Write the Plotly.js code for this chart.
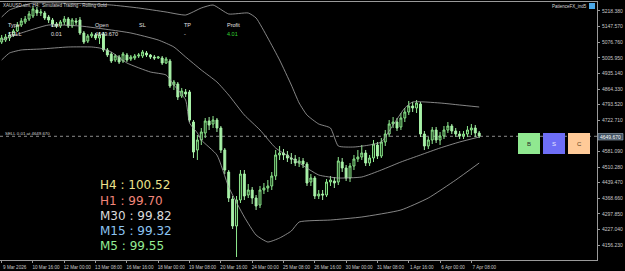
<!DOCTYPE html>
<html><head><meta charset="utf-8">
<script src="https://cdn.plot.ly/plotly-3.0.1.min.js"></script>
<style>html,body{margin:0;padding:0;background:#000;}#chart{width:625px;height:271px;}</style>
</head><body><div id="chart"></div>
<script>
const dateLabels = ["9 Mar 2026","10 Mar 16:00","12 Mar 00:00","13 Mar 08:00","16 Mar 16:00","18 Mar 00:00","19 Mar 08:00","20 Mar 16:00","24 Mar 00:00","25 Mar 08:00","26 Mar 16:00","30 Mar 00:00","31 Mar 08:00","1 Apr 16:00","6 Apr 00:00","7 Apr 08:00"];

const openP = [
5077.7,5086.7,5095.8,5109.4,5127.6,5154.8,5168.4,5182.1,5195.7,5222.9,
5209.3,5209.3,5191.1,5177.5,5159.4,5150.3,5168.4,5182.1,5150.3,5173.0,
5177.5,5118.5,5082.2,5104.9,5109.4,5095.8,5114.0,5041.4,5023.2,4996.0,
5009.6,4991.4,5018.7,5000.5,5005.0,5014.1,5014.1,5027.7,5018.7,5009.6,
5005.0,5005.0,4982.3,4991.4,4882.5,4887.0,4832.6,4850.7,4850.7,4714.5,
4587.5,4632.8,4664.6,4719.1,4705.5,4723.6,4687.3,4587.5,4487.6,4365.0,
4242.5,4360.5,4478.5,4383.2,4405.9,4369.6,4337.8,4405.9,4415.0,4424.1,
4469.4,4564.8,4573.8,4564.8,4551.1,4546.6,4528.4,4537.5,4523.9,4442.2,
4460.4,4378.7,4387.7,4383.2,4442.2,4446.7,4442.2,4533.0,4505.8,4460.4,
4514.8,4546.6,4555.7,4573.8,4528.4,4551.1,4610.1,4560.2,4623.8,4660.1,
4705.5,4714.5,4691.9,4732.7,4759.9,4787.2,4778.1,4796.2,4660.1,4605.6,
4632.8,4678.2,4632.8,4651.0,4678.2,4696.4,4673.7,4660.1,4651.0,4660.1,
4678.2,4687.3,4664.6];
const highP = [
5109.4,5114.0,5123.0,5136.7,5168.4,5186.6,5195.7,5218.4,5241.1,5236.5,
5227.5,5218.4,5200.2,5186.6,5168.4,5177.5,5195.7,5191.1,5186.6,5186.6,
5191.1,5127.6,5114.0,5123.0,5118.5,5123.0,5123.0,5050.4,5032.3,5023.2,
5018.7,5032.3,5027.7,5018.7,5023.2,5027.7,5041.4,5036.8,5023.2,5018.7,
5014.1,5014.1,5009.6,5000.5,4905.2,4896.1,4868.9,4864.3,4859.8,4723.6,
4655.5,4687.3,4732.7,4737.2,4741.8,4732.7,4696.4,4596.5,4496.7,4378.7,
4378.7,4496.7,4496.7,4433.1,4419.5,4383.2,4424.1,4437.7,4451.3,4487.6,
4587.5,4605.6,4592.0,4582.9,4573.8,4564.8,4555.7,4551.1,4533.0,4478.5,
4469.4,4405.9,4405.9,4455.8,4469.4,4464.9,4555.7,4551.1,4519.4,4528.4,
4564.8,4587.5,4610.1,4587.5,4564.8,4632.8,4623.8,4641.9,4678.2,4723.6,
4737.2,4732.7,4755.4,4778.1,4809.9,4805.3,4814.4,4805.3,4673.7,4646.5,
4691.9,4691.9,4669.2,4696.4,4714.5,4705.5,4687.3,4673.7,4673.7,4696.4,
4705.5,4700.9,4673.7];
const lowP = [
5068.6,5077.7,5082.2,5100.4,5123.0,5145.7,5159.4,5173.0,5186.6,5195.7,
5195.7,5177.5,5163.9,5145.7,5141.2,5141.2,5154.8,5141.2,5141.2,5154.8,
5109.4,5068.6,5073.1,5095.8,5086.7,5068.6,5032.3,5009.6,4982.3,4986.9,
4977.8,4982.3,4986.9,4991.4,4996.0,5005.0,5005.0,5009.6,5000.5,4996.0,
5000.5,4973.3,4977.8,4868.9,4859.8,4814.4,4823.5,4828.0,4714.5,4551.1,
4542.1,4610.1,4641.9,4678.2,4687.3,4669.2,4573.8,4478.5,4351.4,4228.9,
4101.8,4346.9,4360.5,4369.6,4342.3,4315.1,4324.2,4387.7,4396.8,4405.9,
4451.3,4542.1,4542.1,4533.0,4523.9,4514.8,4510.3,4505.8,4424.1,4424.1,
4365.0,4365.0,4360.5,4374.1,4424.1,4415.0,4428.6,4487.6,4446.7,4442.2,
4496.7,4533.0,4542.1,4514.8,4514.8,4533.0,4546.6,4551.1,4605.6,4646.5,
4687.3,4673.7,4678.2,4714.5,4746.3,4759.9,4755.4,4646.5,4587.5,4592.0,
4614.7,4619.2,4610.1,4637.4,4664.6,4660.1,4646.5,4637.4,4637.4,4646.5,
4655.5,4646.5,4641.9];
const closeP = [
5095.8,5100.4,5109.4,5127.6,5154.8,5173.0,5182.1,5204.8,5227.5,5209.3,
5213.8,5186.6,5177.5,5159.4,5150.3,5168.4,5182.1,5150.3,5177.5,5168.4,
5118.5,5077.7,5104.9,5114.0,5095.8,5109.4,5041.4,5018.7,4991.4,5014.1,
4986.9,5023.2,4996.0,5009.6,5014.1,5018.7,5032.3,5018.7,5009.6,5005.0,
5009.6,4982.3,5000.5,4877.9,4896.1,4828.0,4855.3,4841.6,4723.6,4578.4,
4632.8,4669.2,4719.1,4700.9,4723.6,4687.3,4587.5,4496.7,4369.6,4242.5,
4360.5,4478.5,4378.7,4405.9,4369.6,4333.3,4405.9,4415.0,4424.1,4469.4,
4564.8,4573.8,4564.8,4551.1,4546.6,4528.4,4537.5,4523.9,4437.7,4460.4,
4378.7,4387.7,4383.2,4442.2,4451.3,4437.7,4537.5,4505.8,4460.4,4514.8,
4546.6,4555.7,4573.8,4528.4,4551.1,4614.7,4560.2,4623.8,4660.1,4705.5,
4714.5,4687.3,4732.7,4759.9,4787.2,4778.1,4800.8,4660.1,4605.6,4632.8,
4678.2,4632.8,4651.0,4678.2,4696.4,4673.7,4660.1,4651.0,4660.1,4678.2,
4687.3,4664.6,4651.0];

const upperBars = [0,2,5,8,15,23,28,35,42,47,51,54,58,63,65,68,71,74,76,78,81,84,86,90,94,97,100,103,105,112,117,122];
const upperBand = [5191.1,5222.9,5241.1,5254.7,5254.7,5250.1,5245.6,5232.0,5213.8,5200.2,5232.0,5245.6,5204.8,5209.3,5186.6,5095.8,4996.0,4882.5,4800.8,4746.3,4705.5,4687.3,4605.6,4601.1,4610.1,4623.8,4700.9,4778.1,4805.3,4800.8,4791.7,4782.6];
const midBars = [0,5,12,20,28,33,40,44,47,51,55,58,62,66,70,74,76,81,86,92,97,102,107,112,117,122];
const midBand = [5086.7,5118.5,5154.8,5150.3,5132.1,5118.5,5086.7,5055.0,5009.6,4950.6,4896.1,4837.1,4746.3,4678.2,4596.5,4551.1,4528.4,4474.0,4460.4,4464.9,4496.7,4533.0,4564.8,4596.5,4623.8,4646.5];
const lowerBars = [0,2,5,10,17,23,25,28,32,38,42,44,47,48,50,51,55,58,62,65,68,71,74,76,84,92,102,109,116,122];
const lowerBand = [4996.0,5027.7,5041.4,5045.9,5055.0,5055.0,5050.4,5032.3,4982.3,4941.5,4927.9,4882.5,4814.4,4710.0,4664.6,4632.8,4564.8,4419.5,4283.3,4201.6,4169.9,4188.0,4219.8,4260.6,4269.7,4283.3,4315.1,4369.6,4451.3,4528.4];

const priceTicks = [4156.23,4227.04,4297.85,4368.66,4439.47,4510.28,4581.09,4651.90,4722.71,4793.52,4864.33,4935.14,5005.95,5076.76,5147.57,5218.38];
const sellPrice = 4649.67;
const bidLabel = "4649.670";

const tableHead = ["Type","Lot","Open","SL","TP","Profit"];
const tableRow = ["SELL","0.01","4649.670","","-","4.01"];
const tfNames = ["H4","H1","M30","M15","M5"];
const tfValues = [100.52, 99.70, 99.82, 99.32, 99.55];
const tfColors = ["#ece28c","#f2867a","#dadada","#8cc4f2","#94ec94"];

const barIndex = closeP.map((_, i) => i);
const labelBars = dateLabels.map((_, k) => k * 8);

const PW = 597, PB = 260, PH = 258;
const X = px => px / PW;
const Y = py => (PB - py) / PH;
const SF = "Liberation Sans, Arial, sans-serif";

function txt(text, px, py, size, color, family, anchor) {
  return {text: text, xref: 'paper', yref: 'paper', x: X(px), y: Y(py),
    xanchor: anchor || 'left', yanchor: 'middle', showarrow: false,
    font: {size: size, color: color, family: family || SF}, borderpad: 0};
}

const bandStyle = {color: '#a8a8a8', width: 0.8, shape: 'spline', smoothing: 0.5};
const traces = [
  {type: 'scatter', mode: 'lines', x: upperBars, y: upperBand, line: bandStyle, hoverinfo: 'skip'},
  {type: 'scatter', mode: 'lines', x: midBars, y: midBand, line: bandStyle, hoverinfo: 'skip'},
  {type: 'scatter', mode: 'lines', x: lowerBars, y: lowerBand, line: bandStyle, hoverinfo: 'skip'},
  {type: 'candlestick', x: barIndex, open: openP, high: highP, low: lowP, close: closeP,
   increasing: {line: {color: '#8ee88e', width: 1}, fillcolor: '#0c2a0c'},
   decreasing: {line: {color: '#a8f2a8', width: 1}, fillcolor: '#a8f2a8'},
   whiskerwidth: 0, hoverinfo: 'skip'}
];

const annotations = [];
annotations.push(txt("XAUUSD.sim, H4:  Simulated Trading - Rolling Gold", 2, 5, 4.5, '#d8d8d8'));
const colX = [7, 50, 94, 138, 183, 226];
tableHead.forEach((t, k) => annotations.push(txt(t, colX[k], 25, 5.5, '#e0e0e0')));
tableRow.forEach((t, k) => { if (t) annotations.push(txt(t, colX[k], 34, 5.5, k === 5 ? '#33d633' : '#e0e0e0')); });
annotations.push(txt("SELL 0.01 at 4649.670", 4, 133.5, 4.4, '#d0d0d0'));
annotations.push(txt("PatienceFX_ind5", 588, 6, 4.5, '#d8d8d8', SF, 'right'));
tfNames.forEach((n, k) => annotations.push(txt(n + " : " + tfValues[k].toFixed(2), 99, 185.5 + k * 15, 12, tfColors[k], "DejaVu Sans, sans-serif")));
annotations.push(txt("B", 529, 144, 6, '#2a2a2a', SF, 'center'));
annotations.push(txt("S", 554, 144, 6, '#e8e8ff', SF, 'center'));
annotations.push(txt("C", 579, 144, 6, '#5a3a1a', SF, 'center'));
annotations.push(txt(bidLabel, 610, 137, 5, '#ffffff', SF, 'center'));

function rect(x0, y0, x1, y1, fill, lineColor) {
  return {type: 'rect', xref: 'paper', yref: 'paper', x0: X(x0), x1: X(x1), y0: Y(y1), y1: Y(y0),
    fillcolor: fill, line: {color: lineColor || fill, width: lineColor ? 0.6 : 0}, layer: 'above'};
}
const shapes = [
  {type: 'line', xref: 'paper', x0: 0, x1: 1, yref: 'y', y0: sellPrice, y1: sellPrice,
   line: {color: '#8c8c8c', width: 1, dash: 'dot'}, layer: 'below'},
  rect(518, 133, 540, 154, '#90e890'),
  rect(543, 133, 565, 154, '#6e6ef6'),
  rect(568, 133, 590, 154, '#ffca98'),
  rect(598, 133.5, 623, 140, '#3e5060', '#a0b0c0'),
  rect(589, 3, 595, 9, '#4aa8e8')
];

// the tick hidden behind the bid price label keeps its mark but no text
const yTickText = priceTicks.map(v => Math.abs(v - sellPrice) < 20 ? '' : v.toFixed(3));

const layout = {
  width: 625, height: 271,
  margin: {l: 0, r: 28, t: 2, b: 11, pad: 0},
  paper_bgcolor: '#000000', plot_bgcolor: '#000000',
  showlegend: false,
  font: {family: SF, color: '#c8c8c8', size: 5},
  xaxis: {type: 'linear', range: [-0.43, 152.1], rangeslider: {visible: false},
    tickmode: 'array', tickvals: labelBars, ticktext: dateLabels,
    ticks: 'outside', ticklen: 2, tickcolor: '#9a9a9a', tickwidth: 1,
    tickfont: {size: 4.6, color: '#c8c8c8', family: SF}, ticklabelshift: 13, ticklabelstandoff: 0,
    showgrid: false, zeroline: false, showline: true, linecolor: '#9a9a9a', linewidth: 1, mirror: true,
    fixedrange: true},
  yaxis: {side: 'right', range: [4088.2, 5259.2], tickmode: 'array', tickvals: priceTicks,
    ticktext: yTickText,
    ticks: 'outside', ticklen: 2, tickcolor: '#9a9a9a', tickwidth: 1,
    tickfont: {size: 5, color: '#c8c8c8', family: SF}, ticklabelstandoff: 1,
    showgrid: false, zeroline: false, showline: true, linecolor: '#9a9a9a', linewidth: 1,
    fixedrange: true},
  annotations: annotations,
  shapes: shapes
};

Plotly.newPlot('chart', traces, layout, {staticPlot: true, displayModeBar: false});
</script>
</body></html>
